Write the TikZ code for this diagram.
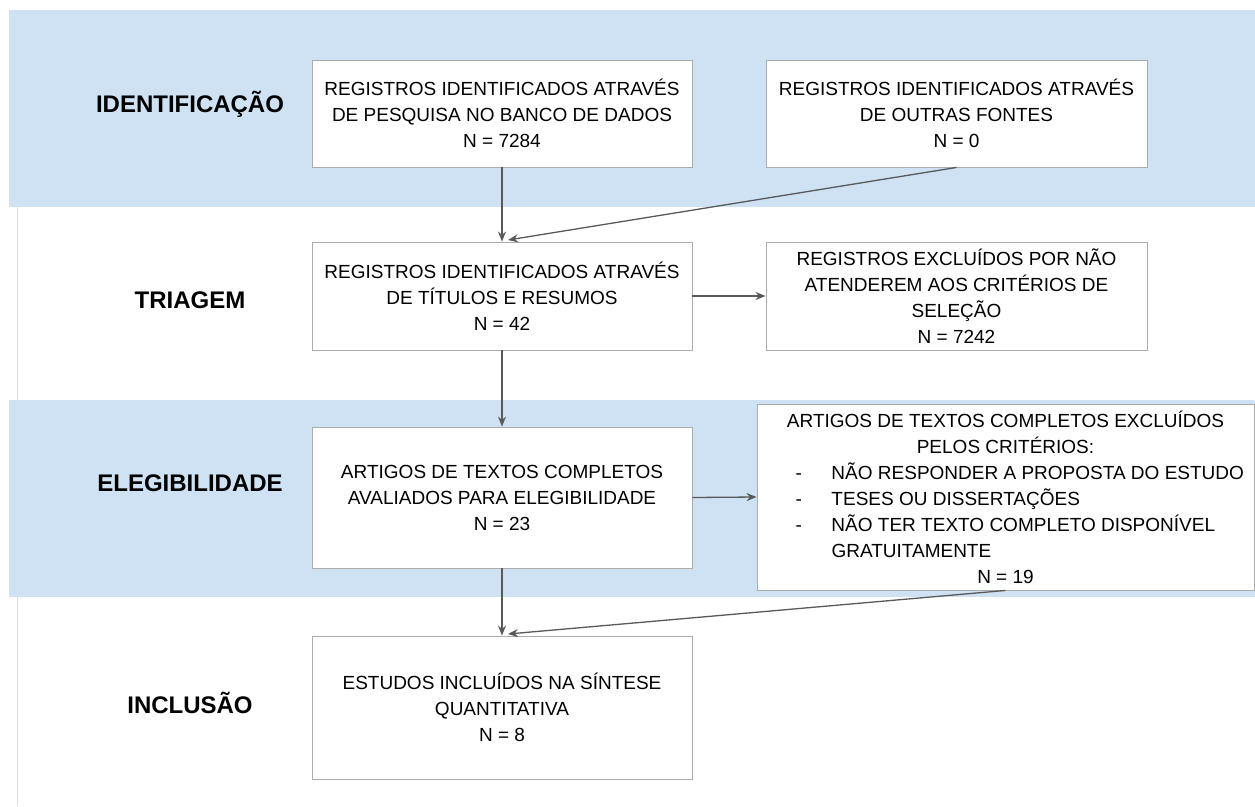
\documentclass[tikz,border=0pt]{standalone}
\usepackage{fontspec}
\setmainfont{Liberation Sans}
\usepackage{tikz}
\usetikzlibrary{arrows.meta}
\definecolor{faixa}{HTML}{CFE2F3}
\definecolor{seta}{HTML}{595959}
\tikzstyle{caixa}=[
        draw=gray!65,
        line width=0.9pt,
        fill=white,
        align=center,
        inner sep=0pt,
        font=\fontsize{19}{26}\selectfont
]
\tikzstyle{etapa}=[
        font=\fontsize{24}{28}\selectfont\bfseries
]
\tikzstyle{fluxo}=[
        draw=seta,
        line width=1.3pt,
        -{Stealth[length=10pt,width=8pt]}
]
\newcommand{\itemtraco}[1]{\makebox[480pt][l]{\hspace{30pt}\makebox[36pt][l]{-}#1}}

\begin{document}
\begin{tikzpicture}[x=1pt,y=-1pt]
                        \useasboundingbox (0,0) rectangle (1255,806);

                        \fill[faixa] (9,10) rectangle (1255,207);
                        \fill[faixa] (9,400) rectangle (1255,597);
                        \draw[gray!25, line width=1pt] (17,207) -- (17,400);
                        \draw[gray!25, line width=1pt] (17,597) -- (17,806);

                        \node[etapa] (identificacao) at (190,104) {IDENTIFICAÇÃO};
                        \node[etapa] (triagem) at (190,300) {TRIAGEM};
                        \node[etapa] (elegibilidade) at (190,483) {ELEGIBILIDADE};
                        \node[etapa] (inclusao) at (190,703) {INCLUSÃO};

                        \node[caixa, minimum width=380pt, minimum height=107pt] (banco) at (502,113.5)
                            {REGISTROS IDENTIFICADOS ATRAVÉS\\DE PESQUISA NO BANCO DE DADOS\\N = 7284};
                        \node[caixa, minimum width=381pt, minimum height=107pt] (outras) at (956.5,113.5)
                            {REGISTROS IDENTIFICADOS ATRAVÉS\\DE OUTRAS FONTES\\N = 0};
                        \node[caixa, minimum width=380pt, minimum height=108pt] (titulos) at (502,296)
                            {REGISTROS IDENTIFICADOS ATRAVÉS\\DE TÍTULOS E RESUMOS\\N = 42};
                        \node[caixa, minimum width=381pt, minimum height=108pt] (excluidos) at (956.5,296)
                            {REGISTROS EXCLUÍDOS POR NÃO\\ATENDEREM AOS CRITÉRIOS DE\\SELEÇÃO\\N = 7242};
                        \node[caixa, minimum width=380pt, minimum height=141pt] (avaliados) at (502,497.5)
                            {ARTIGOS DE TEXTOS COMPLETOS\\AVALIADOS PARA ELEGIBILIDADE\\N = 23};
                        \node[caixa, minimum width=497pt, minimum height=186pt] (criterios) at (1005.5,497)
                            {ARTIGOS DE TEXTOS COMPLETOS EXCLUÍDOS\\PELOS CRITÉRIOS:\\
                             \itemtraco{NÃO RESPONDER A PROPOSTA DO ESTUDO}\\
                             \itemtraco{TESES OU DISSERTAÇÕES}\\
                             \itemtraco{NÃO TER TEXTO COMPLETO DISPONÍVEL}\\
                             \makebox[480pt][l]{\hspace{66pt}GRATUITAMENTE}\\
                             N = 19};
                        \node[caixa, minimum width=380pt, minimum height=143pt] (sintese) at (502,707.5)
                            {ESTUDOS INCLUÍDOS NA SÍNTESE\\QUANTITATIVA\\N = 8};

                        \coordinate (chegada1) at (508,240);
                        \coordinate (chegada2) at (508,634);

                        \draw[fluxo] (banco.south) -- (titulos.north);
                        \draw[fluxo] (outras.south) -- (chegada1);
                        \draw[fluxo] (titulos.east) -- (excluidos.west);
                        \draw[fluxo] (titulos.south) -- (avaliados.north);
                        \draw[fluxo] (avaliados.east) -- (criterios.west);
                        \draw[fluxo] (avaliados.south) -- (sintese.north);
                        \draw[fluxo] (criterios.south) -- (chegada2);

                    \end{tikzpicture}
\end{document}
